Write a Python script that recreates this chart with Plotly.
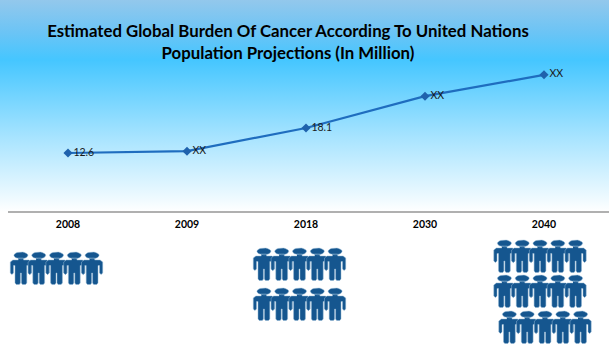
import math
import plotly.graph_objects as go

W, H = 609, 353
years = ["2008", "2009", "2018", "2030", "2040"]
values = [12.6, 13.0, 18.1, 25.1, 29.8]
point_labels = ["12.6", "XX", "18.1", "XX", "XX"]
people_rows = [1, 0, 2, 0, 3]
title = "Estimated Global Burden Of Cancer According To United Nations<br>Population Projections (In Million)"
grad_stops = [[0, "#93c8ec"], [0.15, "#6cc4f5"], [0.283, "#45c6ff"], [0.65, "#a8e4ff"], [0.95, "#f2fbff"], [1, "#ffffff"]]

AXIS_PX = 212
LEFT_PX = 8
px_per_cat = 119.0
x0 = -68 / px_per_cat
x1 = (W - 68) / px_per_cat
px_per_val = 25 / 5.5
y_low = 12.6 - (H - 153) / px_per_val
y_high = 12.6 + 153 / px_per_val

fig = go.Figure()

# gradient panel, on the page-pixel axis
fig.add_trace(go.Scatter(x=[x0, x1, x1, x0, x0], y=[0, 0, AXIS_PX, AXIS_PX, 0], mode="lines", fill="toself",
                         line=dict(width=0), hoverinfo="skip", showlegend=False,
                         fillgradient=dict(type="vertical", colorscale=grad_stops, start=0, stop=AXIS_PX)))


def person(cx, top):
    u = 1 / px_per_cat
    xs, ys = [], []
    for k in range(25):
        a = 2 * math.pi * k / 24
        xs.append(cx + 7.0 * u * math.cos(a))
        ys.append(top + 3.4 + 3.4 * math.sin(a))
    xs.append(None); ys.append(None)
    body = [(-2.6, 6), (2.6, 6), (2.6, 8), (8, 8), (10.6, 10), (10.6, 21), (9, 22.5), (7.4, 21), (7.4, 13.5),
            (5.9, 13.5), (5.9, 31), (4.6, 32.5), (1.6, 32.5), (0.5, 31), (0.5, 21), (-0.5, 21), (-0.5, 31),
            (-1.6, 32.5), (-4.6, 32.5), (-5.9, 31), (-5.9, 13.5), (-7.4, 13.5), (-7.4, 21), (-9, 22.5),
            (-10.6, 21), (-10.6, 10), (-8, 8), (-2.6, 8)]
    for dx, dy in body:
        xs.append(cx + dx * u)
        ys.append(top + dy)
    xs.append(None); ys.append(None)
    return xs, ys


row_tops = {0: [252], 2: [248, 288], 4: [240, 275, 311]}
row_shift = {0: [-11.5], 2: [-6.5, -6.5], 4: [-4, -4, 1]}
for i, n in enumerate(people_rows):
    for r in range(n):
        for j in range(5):
            px, py = person(i + (row_shift[i][r] + (j - 2) * 17.8) / px_per_cat, row_tops[i][r])
            fig.add_trace(go.Scatter(x=px, y=py, mode="lines", fill="toself", fillcolor="#15568f",
                                     line=dict(color="#8fb4d3", width=0.5), hoverinfo="skip", showlegend=False))

fig.add_trace(go.Scatter(x=list(range(5)), y=values, yaxis="y2", mode="lines+markers+text", text=point_labels,
                         textposition="middle right",
                         textfont=dict(family="Lato, Liberation Sans", size=10.5, color="#1a1a1a"),
                         line=dict(color="#1f6dbf", width=2.2),
                         marker=dict(symbol="diamond", size=7, color="#1f62ad"),
                         showlegend=False))

fig.add_shape(type="line", xref="paper", yref="y", x0=LEFT_PX / W, x1=1, y0=AXIS_PX, y1=AXIS_PX,
              line=dict(color="#b0b0b0", width=2), layer="above")

fig.update_layout(
    width=W, height=H, margin=dict(l=0, r=0, t=0, b=0), paper_bgcolor="white", plot_bgcolor="rgba(0,0,0,0)",
    showlegend=False,
    title=dict(text=title, x=288 / W, xanchor="center", y=1 - 37 / H, yanchor="middle",
               font=dict(family="Lato, Liberation Sans", size=16.8, color="black", weight="bold")),
    xaxis=dict(domain=[0, 1], range=[x0, x1], tickmode="array", tickvals=list(range(5)),
               ticktext=years, showgrid=False, zeroline=False, showline=False, anchor="free",
               position=(H - AXIS_PX) / H, ticks="",
               tickfont=dict(family="Lato, Liberation Sans", size=10.5, color="black", weight="bold"),
               ticklabelstandoff=4),
    yaxis=dict(domain=[0, 1], range=[H, 0], visible=False),
    yaxis2=dict(range=[y_low, y_high], overlaying="y", visible=False),
)
fig.write_html("out.html", post_script="document.body.style.margin='0';", config={"displayModeBar": False})
